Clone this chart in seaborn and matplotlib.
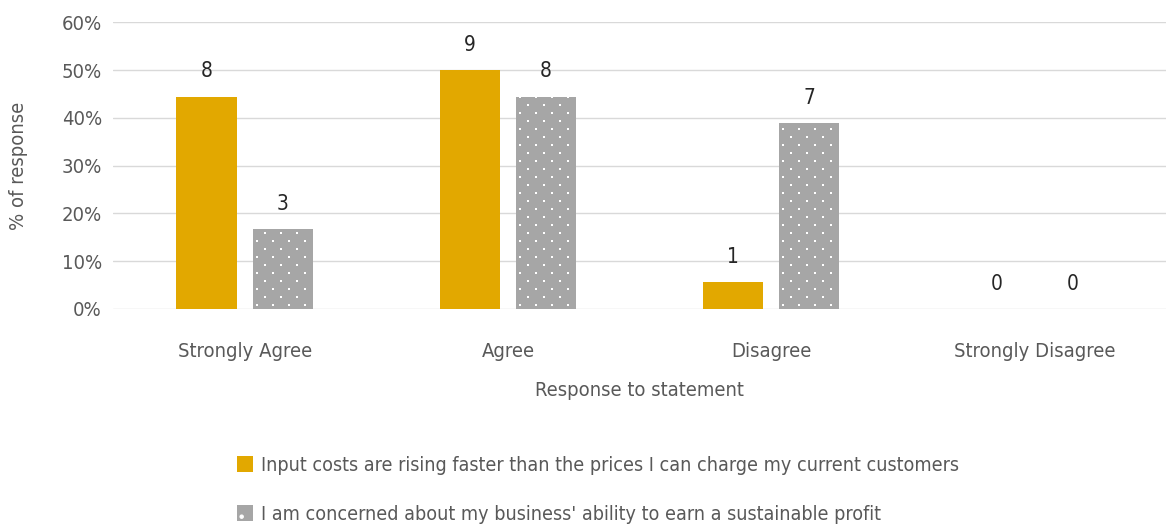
import numpy as np
import pandas as pd
import matplotlib.pyplot as plt
import seaborn as sns
from matplotlib.ticker import PercentFormatter
from matplotlib.patches import Patch

categories = ['Strongly Agree', 'Agree', 'Disagree', 'Strongly Disagree']
series_names = ['Input costs are rising faster than the prices I can charge my current customers',
                "I am concerned about my business' ability to earn a sustainable profit"]
input_costs = [8, 9, 1, 0]
concerned = [3, 8, 7, 0]
total = 18

df = pd.DataFrame({
    'category': categories * 2,
    'series': [series_names[0]] * 4 + [series_names[1]] * 4,
    'count': input_costs + concerned,
})
df['pct'] = df['count'] / total * 100

sns.set_style('white')
plt.rcParams['font.family'] = ['DejaVu Sans']
plt.rcParams['font.stretch'] = 'condensed'
plt.rcParams['hatch.linewidth'] = 0.8
txt = '#595959'

fig = plt.figure(figsize=(11.66, 5.29), dpi=100)
ax = fig.add_axes([0.097, 0.416, 0.903, 0.542])
sns.barplot(data=df, x='category', y='pct', hue='series', ax=ax,
            palette=['#E2A800', '#A6A6A6'], width=0.58, gap=0.21,
            errorbar=None, legend=False, saturation=1)

n = len(categories)
bars = ax.patches[:2 * n]
for p in bars:
    p.set_linewidth(0)

for i, p in enumerate(bars):
    c = df['count'].iloc[i]
    ax.text(p.get_x() + p.get_width() / 2, p.get_height() + 3.2, str(c),
            ha='center', va='bottom', fontsize=15, color='#262626')

ax.set_ylim(0, 60)
ax.set_xlim(-0.5, n - 0.5)
ax.set_yticks(range(0, 61, 10))
ax.yaxis.set_major_formatter(PercentFormatter(decimals=0))
ax.grid(axis='y', color='#D9D9D9', linewidth=1)
ax.set_axisbelow(True)
for s in ax.spines.values():
    s.set_visible(False)
ax.tick_params(axis='both', length=0, labelsize=14.5, colors=txt, pad=8)
ax.tick_params(axis='x', pad=24)
ax.set_ylabel('% of response', fontsize=14.5, color=txt, labelpad=24)
ax.set_xlabel('Response to statement', fontsize=14.5, color=txt, labelpad=14)

# white dot pattern on the grey bars (staggered, 16px x 8px)
for p in bars[n:]:
    if p.get_height() <= 0:
        continue
    (px0, py0) = ax.transData.transform((p.get_x(), 0))
    (px1, py1) = ax.transData.transform((p.get_x() + p.get_width(), p.get_height()))
    pts = []
    for j, yy in enumerate(np.arange(py0 + 4, py1, 8)):
        start = px0 + 4 + (8 if j % 2 else 0)
        for xx in np.arange(start, px1 - 1, 16):
            pts.append((xx, yy))
    pts = ax.transData.inverted().transform(np.array(pts))
    ax.scatter(pts[:, 0], pts[:, 1], marker='s', s=3, color='white', linewidths=0, zorder=3)

handles = [Patch(facecolor='#E2A800', edgecolor='#E2A800', linewidth=0),
           Patch(facecolor='#A6A6A6', edgecolor='white', hatch='.', linewidth=0)]
fig.legend(handles, series_names, loc='upper left', bbox_to_anchor=(0.188, 0.172),
           frameon=False, fontsize=14.1, labelcolor=txt, handlelength=0.85,
           handleheight=0.85, handletextpad=0.4, labelspacing=1.55)

fig.savefig('out.png', dpi=100)
